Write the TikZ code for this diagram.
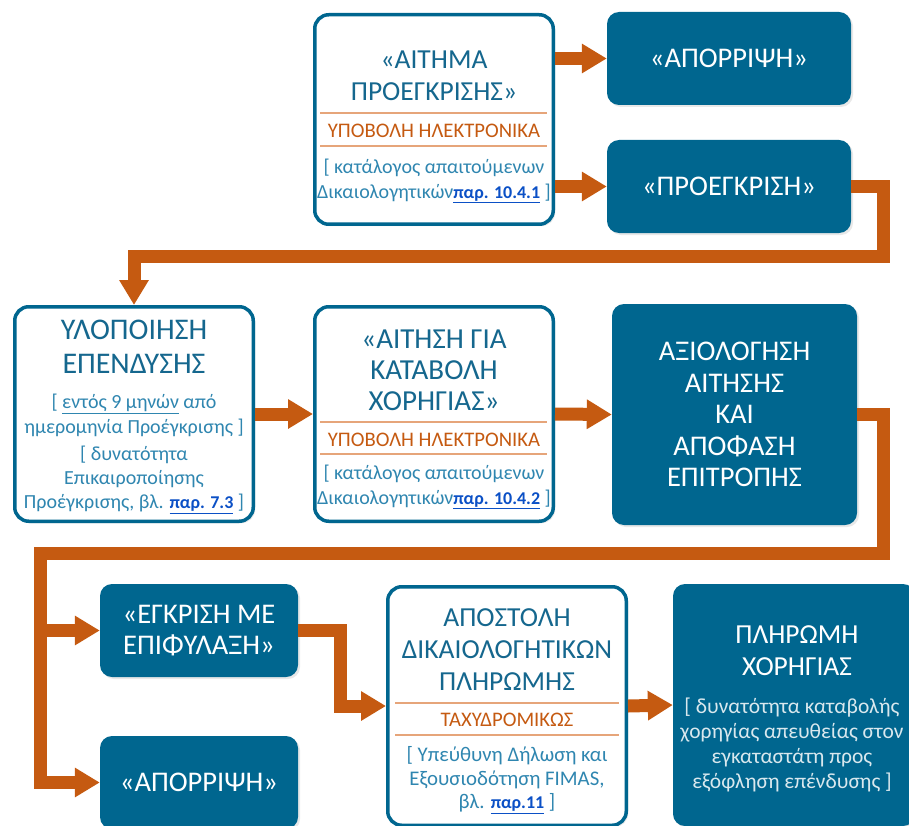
\documentclass[tikz,border=0pt]{standalone}
\usepackage{fontspec}
\setmainfont{Carlito}
\usetikzlibrary{arrows.meta,shadows}
\definecolor{dblue}{HTML}{00668F}
\definecolor{tblue}{HTML}{15678E}
\definecolor{lblue}{HTML}{2F86B0}
\definecolor{orng}{HTML}{C55A11}
\definecolor{lorng}{HTML}{E6A57A}
\definecolor{lnk}{HTML}{0B50C6}
\newcommand{\lnkref}[1]{{\fontsize{18}{\baselineskip}\selectfont\textcolor{lnk}{\underline{\textbf{#1}}}}}
\tikzset{
  wbox/.style={draw=dblue, line width=3.5pt, fill=white, rounded corners=14pt, inner sep=0pt,
    drop shadow={opacity=.18, shadow xshift=2pt, shadow yshift=-2pt}},
  dbox/.style={fill=dblue, rounded corners=12pt, inner sep=0pt, text=white, align=center,
    font=\fontsize{28.5}{31.5}\selectfont,
    drop shadow={opacity=.18, shadow xshift=2pt, shadow yshift=-2pt}},
  ttl/.style={text=tblue, align=center, inner sep=0pt, font=\fontsize{27.5}{32}\selectfont},
  sub/.style={text=orng, inner sep=0pt, font=\fontsize{20.7}{24}\selectfont},
  brk/.style={text=lblue, align=center, inner sep=0pt, font=\fontsize{20}{25}\selectfont},
  wbrk/.style={text=white!85!dblue, align=center, inner sep=0pt, font=\fontsize{21.5}{25}\selectfont},
  sepline/.style={draw=lorng, line width=2pt},
  arr/.style={draw=orng, line width=13pt, line join=miter,
    -{Triangle[width=28pt,length=25pt]}},
  conn/.style={draw=orng, line width=13pt, line join=miter}
}
\begin{document}
\begin{tikzpicture}[x=1pt,y=-1pt]
\useasboundingbox (0,0) rectangle (909,826);
\clip (0,0) rectangle (909,826);
% boxes
\node[wbox, minimum width=238.5pt, minimum height=209.5pt] (b1) at (434,119.5) {};
\node[dbox, minimum width=244pt, minimum height=93pt] (rej1) at (729,58.5) {«ΑΠΟΡΡΙΨΗ»};
\node[dbox, minimum width=244pt, minimum height=93pt] (pre) at (729,186.5) {«ΠΡΟΕΓΚΡΙΣΗ»};
\node[wbox, minimum width=238.5pt, minimum height=214.5pt] (impl) at (134,414) {};
\node[wbox, minimum width=238.5pt, minimum height=214.5pt] (req) at (434,414) {};
\node[dbox, minimum width=245pt, minimum height=221pt] (eval) at (734.5,414.5)
  {ΑΞΙΟΛΟΓΗΣΗ\\ΑΙΤΗΣΗΣ\\ΚΑΙ\\ΑΠΟΦΑΣΗ\\ΕΠΙΤΡΟΠΗΣ};
\node[dbox, minimum width=198pt, minimum height=93pt] (appr) at (199,630.5) {«ΕΓΚΡΙΣΗ ΜΕ\\ΕΠΙΦΥΛΑΞΗ»};
\node[dbox, minimum width=198pt, minimum height=93pt] (rej2) at (199,782.5) {«ΑΠΟΡΡΙΨΗ»};
\node[wbox, minimum width=238.5pt, minimum height=238.5pt] (send) at (507,706) {};
\node[dbox, minimum width=242pt, minimum height=242pt] (pay) at (794,705) {};

% texts in box 1
\node[ttl] (b1t) at (434,76) {«ΑΙΤΗΜΑ\\ΠΡΟΕΓΚΡΙΣΗΣ»};
\node[sub] (b1s) at (434,131) {ΥΠΟΒΟΛΗ ΗΛΕΚΤΡΟΝΙΚΑ};
\node[brk] (b1b) at (434,181) {[ κατάλογος απαιτούμενων\\Δικαιολογητικών\lnkref{παρ. 10.4.1} ]};
\draw[sepline] (320,113) -- (547,113);
\draw[sepline] (320,146) -- (547,146);

% texts in implementation box
\node[ttl, font=\fontsize{30}{34}\selectfont] (implt) at (134,347) {ΥΛΟΠΟΙΗΣΗ\\ΕΠΕΝΔΥΣΗΣ};
\node[brk] (implb1) at (134,415) {[ \underline{εντός 9 μηνών} από\\ημερομηνία Προέγκρισης ]};
\node[brk, font=\fontsize{20}{24}\selectfont] (implb2) at (134,480) {[ δυνατότητα\\Επικαιροποίησης\\Προέγκρισης, βλ. \lnkref{παρ. 7.3} ]};

% texts in request box
\node[ttl, font=\fontsize{29}{31}\selectfont] (reqt) at (434,370) {«ΑΙΤΗΣΗ ΓΙΑ\\ΚΑΤΑΒΟΛΗ\\ΧΟΡΗΓΙΑΣ»};
\node[sub] (reqs) at (434,440) {ΥΠΟΒΟΛΗ ΗΛΕΚΤΡΟΝΙΚΑ};
\node[brk] (reqb) at (434,487) {[ κατάλογος απαιτούμενων\\Δικαιολογητικών\lnkref{παρ. 10.4.2} ]};
\draw[sepline] (320,422) -- (547,422);
\draw[sepline] (320,454) -- (547,454);

% texts in send box
\node[ttl] (sendt) at (507,650) {ΑΠΟΣΤΟΛΗ\\ΔΙΚΑΙΟΛΟΓΗΤΙΚΩΝ\\ΠΛΗΡΩΜΗΣ};
\node[sub] (sends) at (507,720) {ΤΑΧΥΔΡΟΜΙΚΩΣ};
\node[brk, font=\fontsize{20.8}{23.5}\selectfont] (sendb) at (507,780) {[ Υπεύθυνη Δήλωση και\\Εξουσιοδότηση FIMAS,\\βλ. \lnkref{παρ.11} ]};
\draw[sepline] (395,703) -- (619,703);
\draw[sepline] (395,735) -- (619,735);

% texts in pay box
\node[ttl, text=white] (payt) at (797,651) {ΠΛΗΡΩΜΗ\\ΧΟΡΗΓΙΑΣ};
\node[wbrk] (payb) at (792,745) {[ δυνατότητα καταβολής\\χορηγίας απευθείας στον\\εγκαταστάτη προς\\εξόφληση επένδυσης ]};

% connectors
\draw[arr] (b1.east |- rej1.west) -- (rej1.west);
\draw[arr] (b1.east |- pre.west) -- (pre.west);
\coordinate (k1) at (883.5,256);
\draw[arr] (pre.east) -| (k1) -| (impl.north);
\draw[arr] (impl.east) -- (req.west);
\draw[arr] (req.east) -- (eval.west);
\coordinate (k2) at (883.5,553.5);
\coordinate (k3) at (40.5,553.5);
\draw[arr] (eval.east) -| (k2) -- (k3) |- (rej2.west);
\draw[arr] (k3) |- (appr.west);
\path (send.west) ++(-46,0) coordinate (k4);
\draw[arr] (appr.east) -| (k4) -- (send.west);
\draw[arr] (send.east) -- (pay.west);
\end{tikzpicture}
\end{document}
